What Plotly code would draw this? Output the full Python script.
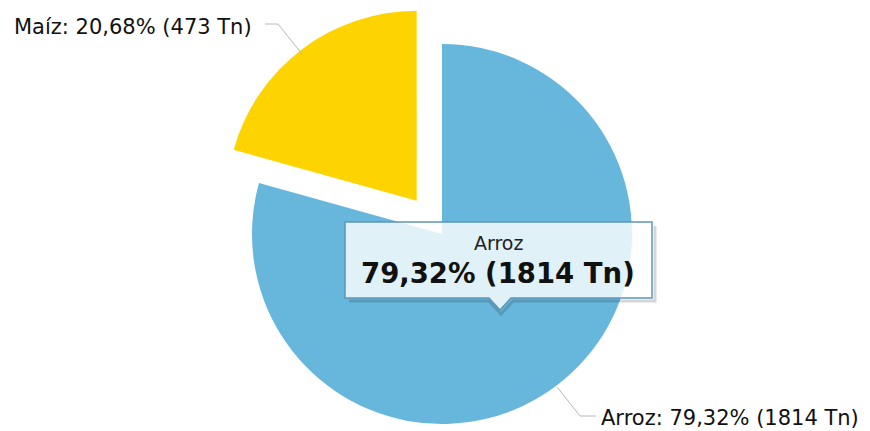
import math
import plotly.graph_objects as go

# ---- data ----
categories = ["Arroz", "Maíz"]
tonnes = [1814, 473]
percent_labels = ["79,32%", "20,68%"]
colors = ["#67b7dc", "#fdd400"]

W, H = 870, 431
CX, CY, R = 442, 234, 190
PULL = 0.22

def px(x):
    return x / W

def py(y):
    return 1 - y / H

total = sum(tonnes)
frac_arroz = tonnes[0] / total
mid = (frac_arroz + (1 - frac_arroz) / 2) * 2 * math.pi
dx, dy = math.sin(mid), -math.cos(mid)
ycx, ycy = CX + PULL * R * dx, CY + PULL * R * dy

def domain(cx, cy):
    return dict(x=[px(cx - R), px(cx + R)], y=[py(cy + R), py(cy - R)])

fig = go.Figure()
fig.add_trace(go.Pie(
    labels=categories, values=tonnes, sort=False, direction="clockwise", rotation=0,
    marker=dict(colors=[colors[0], "rgba(0,0,0,0)"], line=dict(width=0)),
    textinfo="none", hoverinfo="skip", showlegend=False, domain=domain(CX, CY)))
fig.add_trace(go.Pie(
    labels=categories, values=tonnes, sort=False, direction="clockwise", rotation=0,
    marker=dict(colors=["rgba(0,0,0,0)", colors[1]], line=dict(width=0)),
    textinfo="none", hoverinfo="skip", showlegend=False, domain=domain(ycx, ycy)))

def label_text(i):
    return f"{categories[i]}: {percent_labels[i]} ({tonnes[i]} Tn)"

LINE = dict(color="#b8b8b8", width=1)
shapes = [
    dict(type="path", xref="paper", yref="paper", line=LINE,
         path=f"M {px(265)},{py(24)} L {px(278)},{py(24)} L {px(302)},{py(54)}"),
    dict(type="path", xref="paper", yref="paper", line=LINE,
         path=f"M {px(557)},{py(387)} L {px(580)},{py(416)} L {px(596)},{py(416)}"),
    # tooltip shadow
    dict(type="path", xref="paper", yref="paper",
         line=dict(color="rgba(0,0,0,0.16)", width=3),
         path=f"M {px(655)},{py(226)} L {px(655)},{py(301)} L {px(513)},{py(301)} L {px(501)},{py(314)} L {px(489)},{py(301)} L {px(349)},{py(301)}"),
    # tooltip box
    dict(type="path", xref="paper", yref="paper",
         fillcolor="rgba(255,255,255,0.8)", line=dict(color="#5f96b8", width=1.5),
         path=(f"M {px(345)},{py(222)} L {px(652)},{py(222)} L {px(652)},{py(298)} "
               f"L {px(511)},{py(298)} L {px(500)},{py(310)} L {px(489)},{py(298)} "
               f"L {px(345)},{py(298)} Z")),
]

FONT = "DejaVu Sans, Verdana, sans-serif"
annotations = [
    dict(text=label_text(1), x=px(12), y=py(27), xref="paper", yref="paper",
         xanchor="left", yanchor="middle", showarrow=False,
         font=dict(family=FONT, size=21, color="#111111")),
    dict(text=label_text(0), x=px(599), y=py(418), xref="paper", yref="paper",
         xanchor="left", yanchor="middle", showarrow=False,
         font=dict(family=FONT, size=21, color="#111111")),
    dict(text=categories[0], x=px(498), y=py(243), xref="paper", yref="paper",
         xanchor="center", yanchor="middle", showarrow=False,
         font=dict(family=FONT, size=19, color="#222222")),
    dict(text=f"<b>{percent_labels[0]} ({tonnes[0]} Tn)</b>", x=px(498), y=py(273),
         xref="paper", yref="paper", xanchor="center", yanchor="middle", showarrow=False,
         font=dict(family=FONT, size=27.5, color="#111111")),
]

fig.update_layout(
    width=W, height=H, margin=dict(l=0, r=0, t=0, b=0),
    paper_bgcolor="white", plot_bgcolor="white",
    shapes=shapes, annotations=annotations, showlegend=False,
)
fig.write_html("out.html", config={"displayModeBar": False},
               post_script="document.body.style.margin='0px';document.body.style.overflow='hidden';")
